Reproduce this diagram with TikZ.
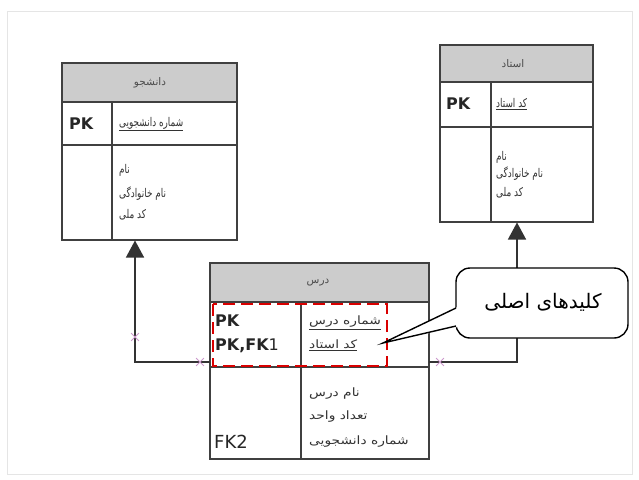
\documentclass[tikz,border=0pt]{standalone}
\usepackage{fontspec}
\setmainfont{Liberation Sans}
\newfontfamily\fa[Script=Arabic]{DejaVu Sans}
\newfontfamily\faN[Script=Arabic,FakeStretch=0.74]{DejaVu Sans}
\newfontfamily\faW[Script=Arabic,FakeStretch=1.2]{DejaVu Sans}
\newfontfamily\djsans{DejaVu Sans}
\TeXXeTstate=1
\usetikzlibrary{arrows.meta,shapes.misc}
\newcommand{\fat}[1]{{\beginR #1\endR}}
\begin{document}
\begin{tikzpicture}[x=1pt,y=-1pt,
  tbl/.style={draw=black!75, line width=1.1pt},
  hdr/.style={fill=black!20},
  fatext/.style={font=\faN\fontsize{12}{14}\selectfont, text=black!80, inner sep=0pt, anchor=west},
  fawide/.style={font=\faW\fontsize{11.5}{13}\selectfont, text=black!80, inner sep=0pt, anchor=west},
  hdrtext/.style={font=\fa\fontsize{10.5}{12}\selectfont, text=black!70, inner sep=0pt},
  keytext/.style={font=\djsans\bfseries\fontsize{16}{18}\selectfont, text=black!85, inner sep=0pt, anchor=west},
  conn/.style={draw=black!80, line width=1.4pt},
  xmark/.style={draw=violet!40, cross out, minimum size=7pt, inner sep=0pt, line width=0.8pt},
  pkbox/.style={draw=red!85!black, dashed, dash pattern=on 12pt off 6pt, line width=2.4pt},
  callout/.style={draw=black, line width=1.4pt, fill=white}
]
\useasboundingbox (0,0) rectangle (639,479);
\fill[white] (0,0) rectangle (639,479);
\draw[black!10, line width=1pt] (7,11) rectangle (632,474);

% ---------- left table: student
\fill[hdr] (62,63) rectangle (237,102);
\draw[tbl] (62,63) rectangle (237,240);
\draw[tbl] (62,102) -- (237,102) (62,145) -- (237,145) (112,102) -- (112,240);
\node[hdrtext] (sh) at (150,83) {\fat{دانشجو}};
\node[keytext] (spk) at (69,124) {PK};
\node[fatext] (s1) at (119,124) {\underline{\fat{شماره دانشجویی}}};
\node[fatext] (s2) at (119,170) {\fat{نام}};
\node[fatext] (s3) at (119,194) {\fat{نام خانوادگی}};
\node[fatext] (s4) at (119,215) {\fat{کد ملی}};
\coordinate (sbot) at (135,240.5);

% ---------- right table: teacher
\fill[hdr] (440,45) rectangle (593,82);
\draw[tbl] (440,45) rectangle (593,222);
\draw[tbl] (440,82) -- (593,82) (440,127) -- (593,127) (491,82) -- (491,222);
\node[hdrtext] (th) at (513,64) {\fat{استاد}};
\node[keytext] (tpk) at (446,104) {PK};
\node[fatext] (t1) at (496,104) {\underline{\fat{کد استاد}}};
\node[fatext] (t2) at (496,157) {\fat{نام}};
\node[fatext] (t3) at (496,174) {\fat{نام خانوادگی}};
\node[fatext] (t4) at (496,193) {\fat{کد ملی}};
\coordinate (tbot) at (517,222.5);

% ---------- middle table: course
\fill[hdr] (210,263) rectangle (429,302);
\draw[tbl] (210,263) rectangle (429,459);
\draw[tbl] (210,302) -- (429,302) (210,367) -- (429,367) (301,302) -- (301,459);
\node[hdrtext] (ch) at (318,283) {\fat{درس}};
\node[keytext] (cpk1) at (215,321) {PK};
\node[keytext] (cpk2) at (215,346) {PK,FK\mdseries 1};
\node[fawide] (c1) at (309,323) {\underline{\fat{شماره درس}}};
\node[fawide] (c2) at (309,345) {\underline{\fat{کد استاد}}};
\node[fawide] (c3) at (309,394) {\fat{نام درس}};
\node[fawide] (c4) at (309,417) {\fat{تعداد واحد}};
\node[fawide] (c5) at (309,442) {\fat{شماره دانشجویی}};
\node[keytext, font=\djsans\fontsize{18}{20}\selectfont] (cfk2) at (214,442) {FK2};
\coordinate (cleft) at (210,362);
\coordinate (cright) at (429,362);

% primary key highlight
\draw[pkbox] (213,304) rectangle (387,366);

% ---------- connectors
\draw[conn, -{Triangle[width=18pt,length=17pt]}] (cleft) -| (sbot);
\draw[conn, -{Triangle[width=18pt,length=17pt]}] (cright) -| (tbot);
\node[xmark] (x1) at (135,337) {};
\node[xmark] (x2) at (200,362) {};
\node[xmark] (x3) at (440,362) {};

% ---------- callout
\draw[callout, rounded corners=14pt] (456,268) rectangle (628,338);
\coordinate (tip) at (383,343);
\fill[white] (457.6,307) -- (tip) -- (457.6,327) -- cycle;
\draw[callout, fill=none] (456,308) -- (tip) -- (456,326);
\node[font=\fa\fontsize{20}{24}\selectfont, inner sep=0pt] (ct) at (543,302) {\fat{کلیدهای اصلی}};
\end{tikzpicture}
\end{document}
